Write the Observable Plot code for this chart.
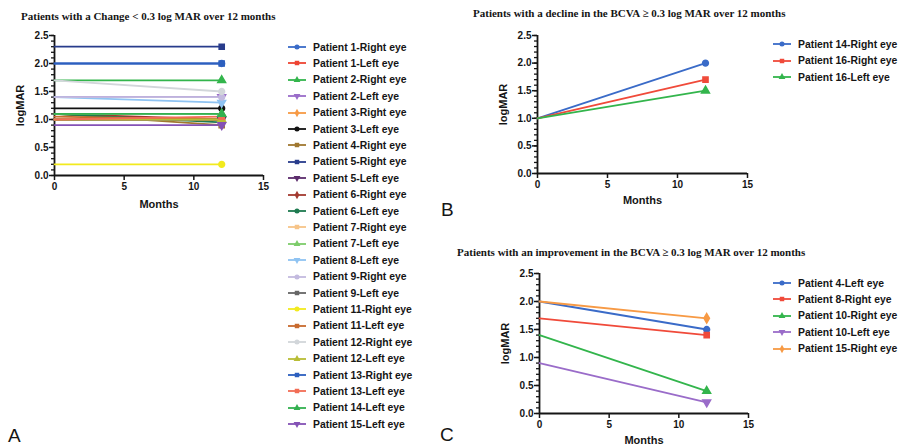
<!DOCTYPE html>
<html><head><meta charset="utf-8">
<script src="https://cdn.jsdelivr.net/npm/d3@7"></script>
<script src="https://cdn.jsdelivr.net/npm/@observablehq/plot@0.6"></script>
<style>
body{margin:0;background:#fff;width:905px;height:445px;overflow:hidden;position:relative;font-family:"Liberation Sans",Arial,sans-serif}
.abs{position:absolute}
.title{font-family:"Liberation Serif",serif;font-weight:bold;font-size:11px;white-space:nowrap;color:#151515;line-height:1}
.letter{font-size:19px;color:#151515;line-height:1}
.lrow{position:absolute;display:flex;align-items:center;white-space:nowrap;font-weight:bold;font-size:10.4px;color:#151515;height:12px}
.lrow svg{display:block;margin-right:7px}
</style></head><body>
<script>
// ---------- DATA ----------
const months = [0, 12];

// Panel A: change < 0.3 logMAR
const namesA = ["Patient 1-Right eye","Patient 1-Left eye","Patient 2-Right eye","Patient 2-Left eye","Patient 3-Right eye","Patient 3-Left eye","Patient 4-Right eye","Patient 5-Right eye","Patient 5-Left eye","Patient 6-Right eye","Patient 6-Left eye","Patient 7-Right eye","Patient 7-Left eye","Patient 8-Left eye","Patient 9-Right eye","Patient 9-Left eye","Patient 11-Right eye","Patient 11-Left eye","Patient 12-Right eye","Patient 12-Left eye","Patient 13-Right eye","Patient 13-Left eye","Patient 14-Left eye","Patient 15-Left eye"];
const baselineA = [2.0, 1.0, 1.7, 1.4, 1.0, 1.2, 1.1, 2.3, 1.0, 1.1, 1.1, 1.0, 1.1, 1.4, 1.4, 1.0, 0.2, 1.05, 1.7, 1.0, 2.0, 1.0, 1.1, 0.9];
const month12A  = [2.0, 1.0, 1.7, 1.4, 1.0, 1.2, 0.9, 2.3, 1.0, 1.0, 0.95, 1.0, 1.1, 1.3, 1.4, 1.0, 0.2, 1.0, 1.5, 1.0, 2.0, 1.05, 1.1, 0.9];

// Panel B: decline >= 0.3 logMAR
const namesB = ["Patient 14-Right eye","Patient 16-Right eye","Patient 16-Left eye"];
const baselineB = [1.0, 1.0, 1.0];
const month12B  = [2.0, 1.7, 1.5];

// Panel C: improvement >= 0.3 logMAR
const namesC = ["Patient 4-Left eye","Patient 8-Right eye","Patient 10-Right eye","Patient 10-Left eye","Patient 15-Right eye"];
const baselineC = [2.0, 1.7, 1.4, 0.9, 2.0];
const month12C  = [1.5, 1.4, 0.4, 0.2, 1.7];

const yTicks = [0, 0.5, 1.0, 1.5, 2.0, 2.5];
const yMinorTicks = [0,0.1,0.2,0.3,0.4,0.5,0.6,0.7,0.8,0.9,1.0,1.1,1.2,1.3,1.4,1.5,1.6,1.7,1.8,1.9,2.0,2.1,2.2,2.3,2.4,2.5];
const xTicks = [0, 5, 10, 15];

// ---------- STYLE ----------
const colorsA = ["#3a6bc8","#ee4433","#33b54c","#9a6cc9","#f79a45","#111111","#a07830","#283c8c","#5c2c6c","#a33a30","#1e7a50","#f7c488","#7dcc6a","#8fc3f2","#c3badf","#666666","#f2ea1e","#c86a2e","#d2d6da","#b8bd35","#2c5fbf","#f26d55","#33b050","#8452b5"];
const colorsB = ["#3a6bc8","#f04a3a","#33b54c"];
const colorsC = ["#3a6bc8","#f04a3a","#33b54c","#9a6cc9","#f79a45"];

const triDown = {draw(ctx, size){
  const y = -Math.sqrt(size / (Math.sqrt(3) * 3));
  ctx.moveTo(0, -y * 2); ctx.lineTo(-Math.sqrt(3) * y, y); ctx.lineTo(Math.sqrt(3) * y, y); ctx.closePath();
}};
const symMap = {circle: d3.symbolCircle, square: d3.symbolSquare, triangle: d3.symbolTriangle, diamond: d3.symbolDiamond};
const symbolsA = ["circle","square","triangle",triDown,"diamond","circle","square","square",triDown,"diamond","circle","square","triangle",triDown,"circle","square","circle","square","circle","triangle","square","square","triangle",triDown];
const symbolsB = ["circle","square","triangle"];
const symbolsC = ["circle","square","triangle",triDown,"diamond"];

function rowsOf(names, base, end){
  return names.flatMap((name, i) => [
    {name, month: months[0], value: base[i]},
    {name, month: months[1], value: end[i]}
  ]);
}

function panel({names, base, end, colors, symbols, left, top, width, height, mL, mR, mT, mB, yLabOff, xLabOff}){
  const rows = rowsOf(names, base, end);
  const svg = Plot.plot({
    width, height, marginLeft: mL, marginRight: mR, marginTop: mT, marginBottom: mB,
    style: {fontFamily: '"Liberation Sans", Arial, sans-serif', fontSize: "10px", fontWeight: "bold", color: "#151515", background: "transparent", overflow: "visible"},
    x: {domain: [0, 15]},
    y: {domain: [0, 2.5]},
    color: {domain: names, range: colors},
    symbol: {domain: names, range: symbols},
    marks: [
      Plot.axisY({ticks: yMinorTicks, tickSize: 3, tickFormat: () => "", label: null, strokeWidth: 1.3}),
      Plot.axisY({ticks: yTicks, tickSize: 5, tickPadding: 1, tickFormat: d3.format(".1f"), label: null, strokeWidth: 1.5}),
      Plot.axisY({ticks: [], label: "logMAR", labelAnchor: "center", labelArrow: "none", labelOffset: yLabOff, fontSize: 11}),
      Plot.axisX({ticks: xTicks, tickSize: 5, tickPadding: 2, tickFormat: d => d, label: null, strokeWidth: 1.5}),
      Plot.axisX({ticks: [], label: "Months", labelAnchor: "center", labelArrow: "none", labelOffset: xLabOff, fontSize: 11}),
      Plot.ruleX([0], {y1: 0, y2: 2.5, stroke: "#151515", strokeWidth: 1.8}),
      Plot.ruleY([0], {x1: 0, x2: 15, stroke: "#151515", strokeWidth: 1.8}),
      Plot.line(rows, {x: "month", y: "value", z: "name", stroke: "name", strokeWidth: 1.8}),
      Plot.dot(rows.filter(d => d.month === months[1]), {x: "month", y: "value", fill: "name", stroke: "name", symbol: "name", r: 2.9})
    ]
  });
  svg.classList.add("abs");
  svg.style.left = left + "px";
  svg.style.top = top + "px";
  document.body.appendChild(svg);
}

function legend(names, colors, symbols, left, top0, step){
  names.forEach((name, i) => {
    const row = document.createElement("div");
    row.className = "lrow";
    row.style.left = left + "px";
    row.style.top = (top0 + i * step - 6) + "px";
    const s = symbols[i];
    const type = typeof s === "string" ? symMap[s] : s;
    const path = d3.symbol(type, 20)();
    row.innerHTML = `<svg width="18" height="10"><line x1="0" x2="18" y1="5" y2="5" stroke="${colors[i]}" stroke-width="1.8"/><path d="${path}" transform="translate(9,5)" fill="${colors[i]}"/></svg><span>${name}</span>`;
    document.body.appendChild(row);
  });
}

function text(cls, str, left, top){
  const d = document.createElement("div");
  d.className = "abs " + cls;
  d.textContent = str;
  d.style.left = left + "px";
  d.style.top = top + "px";
  document.body.appendChild(d);
}

// Panel A
panel({names: namesA, base: baselineA, end: month12A, colors: colorsA, symbols: symbolsA, left: 0, top: 0, width: 280, height: 225, mL: 54, mR: 17, mT: 35, mB: 50, yLabOff: 38, xLabOff: 32});
legend(namesA, colorsA, symbolsA, 288, 47, 16.4);
text("title", "Patients with a Change < 0.3 log MAR over 12 months", 21, 11);
text("letter", "A", 8, 426);

// Panel B
panel({names: namesB, base: baselineB, end: month12B, colors: colorsB, symbols: symbolsB, left: 430, top: 0, width: 330, height: 220, mL: 107, mR: 13, mT: 35, mB: 47, yLabOff: 38, xLabOff: 30});
legend(namesB, colorsB, symbolsB, 773, 44, 16.5);
text("title", "Patients with a decline in the BCVA ≥ 0.3 log MAR over 12 months", 473, 8);
text("letter", "B", 441, 200);

// Panel C
panel({names: namesC, base: baselineC, end: month12C, colors: colorsC, symbols: symbolsC, left: 420, top: 230, width: 340, height: 215, mL: 119, mR: 12, mT: 43, mB: 32, yLabOff: 38, xLabOff: 30});
legend(namesC, colorsC, symbolsC, 773, 283, 16.4);
text("title", "Patients with an improvement in the BCVA ≥ 0.3 log MAR over 12 months", 457, 247);
text("letter", "C", 440, 425);
</script>
</body></html>
